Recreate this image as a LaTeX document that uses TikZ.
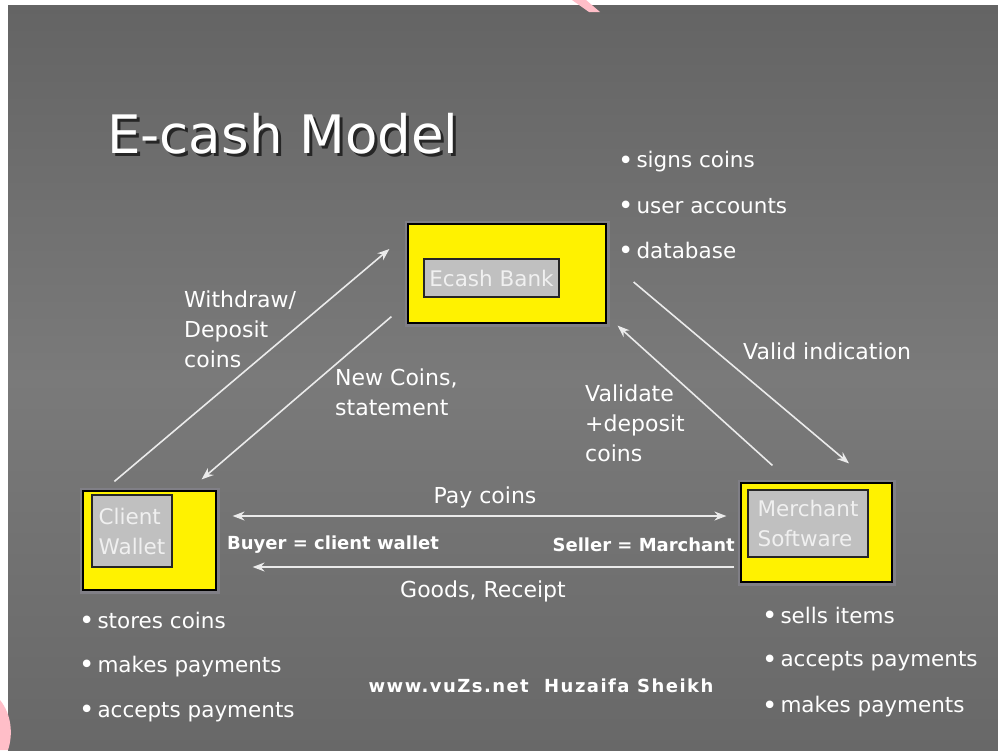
\documentclass[tikz,border=0pt]{standalone}
\usepackage{fontspec}
\setmainfont{DejaVu Sans}
\usetikzlibrary{arrows.meta,positioning}

\definecolor{bgtop}{RGB}{100,100,100}
\definecolor{bgmid}{RGB}{122,122,122}
\definecolor{bgbot}{RGB}{104,104,104}
\definecolor{boxgray}{RGB}{192,192,192}
\definecolor{boxtext}{RGB}{240,240,240}
\definecolor{halo}{RGB}{128,127,134}
\definecolor{arrowwhite}{RGB}{235,235,235}
\definecolor{stamp}{RGB}{255,190,200}

\newcommand{\itembul}{\raisebox{-1.5pt}{\fontsize{26}{26}\selectfont\textbullet}\hspace{3pt}}

\begin{document}
\begin{tikzpicture}[x=1pt,y=-1pt,
    every node/.style={inner sep=0pt,text=white},
    outerbox/.style={draw=black,line width=1.2pt,fill=yellow,minimum height=99pt,
      preaction={draw=halo,line width=7pt}},
    innerbox/.style={draw=black!85,line width=1.2pt,fill=boxgray,text=boxtext,
      align=left,font=\fontsize{21.5}{30}\selectfont},
    flow/.style={draw=arrowwhite,line width=1.6pt,-{Stealth[length=12pt,width=9pt]}},
    lbl/.style={font=\fontsize{22}{30}\selectfont,align=left,anchor=north west},
    tag/.style={font=\bfseries\fontsize{18}{20}\selectfont},
    itm/.style={font=\fontsize{21.5}{24}\selectfont,anchor=west}]
    \useasboundingbox (0,0) rectangle (998,750);

    % Slide background
    \fill[white] (0,0) rectangle (998,750);
    \shade[top color=bgtop,bottom color=bgbot,middle color=bgmid] (8,5) rectangle (998,750);
    \fill[stamp] (572,0) -- (586,0) -- (600,12) -- (589,12) -- cycle;
    \fill[stamp] (0,700) .. controls (12,715) and (13,735) .. (8,750) -- (0,750) -- cycle;

    % Title
    \node[font=\fontsize{53}{60}\selectfont,text=black!85,anchor=base west] (titleshadow) at (110,156) {E-cash Model};
    \node[font=\fontsize{53}{60}\selectfont,anchor=base west] (title) at (107,153) {E-cash Model};

    % Parties
    \node[outerbox,minimum width=198pt] (bank) at (507,273.5) {};
    \node[outerbox,minimum width=133pt] (wallet) at (149.5,540.5) {};
    \node[outerbox,minimum width=151pt] (merchant) at (816.5,532.5) {};

    \node[innerbox,minimum width=135pt,minimum height=38pt,anchor=north west]
      (banktxt) at ([xshift=16pt,yshift=-35pt]bank.north west) {Ecash Bank};
    \node[innerbox,minimum width=80pt,minimum height=72pt,anchor=north west]
      (wallettxt) at ([xshift=9pt,yshift=-4pt]wallet.north west) {Client\\Wallet};
    \node[innerbox,minimum width=120pt,minimum height=67pt,anchor=north west]
      (merchanttxt) at ([xshift=7pt,yshift=-7pt]merchant.north west) {Merchant\\Software};

    % Flows between the parties
    \draw[flow] ([xshift=32pt,yshift=9pt]wallet.north west) -- ([xshift=-18pt,yshift=24.5pt]bank.west);
    \draw[flow] ([xshift=-16pt,yshift=7pt]bank.south west) -- ([xshift=-15pt,yshift=11pt]wallet.north east);
    \draw[flow] ([xshift=27pt,yshift=-8.5pt]bank.east) -- ([xshift=32.5pt,yshift=19pt]merchant.north);
    \draw[flow] ([xshift=32pt,yshift=17pt]merchant.north west) -- ([xshift=11pt,yshift=-2pt]bank.south east);
    \draw[flow,{Stealth[length=12pt,width=9pt]}-{Stealth[length=12pt,width=9pt]}]
      ([xshift=16pt,yshift=24.5pt]wallet.east) -- ([xshift=-14pt,yshift=16.5pt]merchant.west);
    \draw[flow] ([xshift=-6pt,yshift=-34.5pt]merchant.west) -- ([xshift=36pt,yshift=-26.5pt]wallet.east);

    % Flow labels
    \node[lbl] (withdrawlbl) at (184,291) {Withdraw/\\Deposit\\coins};
    \node[lbl] (newcoinslbl) at (335,369) {New Coins,\\statement};
    \node[lbl] (validatelbl) at (585,385) {Validate\\+deposit\\coins};
    \node[lbl] (validlbl) at (743,343) {Valid indication};
    \node[font=\fontsize{22}{24}\selectfont] (paylbl) at (485,497) {Pay coins};
    \node[font=\fontsize{22}{24}\selectfont] (goodslbl) at (483,591) {Goods, Receipt};
    \node[tag,anchor=west] (buyerlbl) at (227,545) {Buyer = client wallet};
    \node[tag,anchor=east] (sellerlbl) at (735,545) {Seller = Marchant};
    \node[tag] (credit) at (541,686) {\addfontfeature{LetterSpace=8}www.vuZs.net\ \ Huzaifa Sheikh};

    % Duties of each party
    \foreach \t [count=\k] in {signs coins,user accounts,database} {
      \node[itm] (bankitem\k) at (618,{162+44.5*(\k-1)}) {\itembul\t};
    }
    \foreach \t [count=\k] in {stores coins,makes payments,accepts payments} {
      \node[itm] (walletitem\k) at (79,{621+45.5*(\k-1)}) {\itembul\t};
    }
    \foreach \t [count=\k] in {sells items,accepts payments,makes payments} {
      \node[itm] (merchantitem\k) at (762,{616+45.5*(\k-1)}) {\itembul\t};
    }

  \end{tikzpicture}
\end{document}
